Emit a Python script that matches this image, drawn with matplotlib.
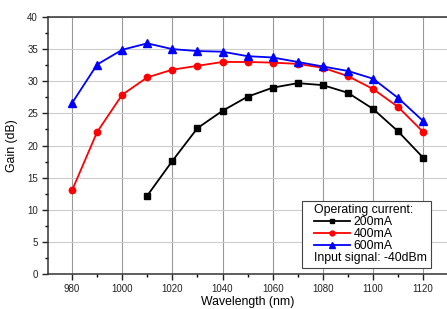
import matplotlib
matplotlib.use("Agg")
import matplotlib.pyplot as plt
from matplotlib.lines import Line2D
from matplotlib.ticker import MultipleLocator
from matplotlib.offsetbox import HPacker, DrawingArea

plt.rcParams['font.family'] = ['Liberation Sans', 'DejaVu Sans']

wl_200 = [1010, 1020, 1030, 1040, 1050, 1060, 1070, 1080, 1090, 1100, 1110, 1120]
gain_200 = [12.2, 17.6, 22.7, 25.4, 27.6, 29.0, 29.7, 29.4, 28.2, 25.7, 22.2, 18.1]

wl_400 = [980, 990, 1000, 1010, 1020, 1030, 1040, 1050, 1060, 1070, 1080, 1090, 1100, 1110, 1120]
gain_400 = [13.0, 22.1, 27.9, 30.6, 31.8, 32.4, 33.0, 33.0, 32.9, 32.7, 32.1, 30.8, 28.8, 26.0, 22.1]

wl_600 = [980, 990, 1000, 1010, 1020, 1030, 1040, 1050, 1060, 1070, 1080, 1090, 1100, 1110, 1120]
gain_600 = [26.6, 32.6, 34.9, 35.9, 35.0, 34.7, 34.6, 33.9, 33.7, 33.0, 32.3, 31.6, 30.4, 27.4, 23.8]

labels = ['200mA', '400mA', '600mA']
legend_title = 'Operating current:'
extra_note = 'Input signal: -40dBm'

fig = plt.figure(figsize=(4.47, 3.09), dpi=100)
ax = fig.add_axes([47.7 / 447, 1 - 274 / 309, 1 - 47.7 / 447, (274 - 17) / 309])

ax.plot(wl_200, gain_200, color='black', lw=1.3, marker='s', ms=4.0)
ax.plot(wl_400, gain_400, color='#ff0000', lw=1.3, marker='o', ms=4.6)
ax.plot(wl_600, gain_600, color='#0000ff', lw=1.3, marker='^', ms=5.2)

ax.set_xlim(970.3, 1129.5)
ax.set_ylim(0, 40)
ax.xaxis.set_major_locator(MultipleLocator(20))
ax.xaxis.set_minor_locator(MultipleLocator(10))
ax.yaxis.set_major_locator(MultipleLocator(5))
ax.yaxis.set_minor_locator(MultipleLocator(2.5))
ax.tick_params(which='major', direction='out', length=4, width=1, labelsize=7, colors='#222222', pad=3)
ax.tick_params(which='minor', direction='out', length=2.5, width=1)
ax.grid(axis='x', which='major', color='#999999', lw=0.8)
ax.grid(axis='y', which='major', color='#cccccc', lw=0.8)
ax.set_axisbelow(True)
ax.spines['right'].set_visible(False)
for s in ['left', 'bottom', 'top']:
    ax.spines[s].set_linewidth(1.1)
    ax.spines[s].set_color('#333333')

ax.set_xlabel('Wavelength (nm)', fontsize=8.8, labelpad=2)
ax.set_ylabel('Gain (dB)', fontsize=8.8, labelpad=7)

handles = [
    Line2D([], [], color='black', lw=1.3, marker='s', ms=3.5),
    Line2D([], [], color='#ff0000', lw=1.3, marker='o', ms=3.5),
    Line2D([], [], color='#0000ff', lw=1.3, marker='^', ms=4),
    Line2D([], [], color='none'),
]
leg = ax.legend(handles, labels + [extra_note], title=legend_title, alignment='left',
                loc='lower right', bbox_to_anchor=((431 - 47.7) / (447 - 47.7), (274 - 268) / 257),
                borderaxespad=0,
                fontsize=8.8, title_fontsize=8.8, frameon=True, fancybox=False,
                edgecolor='#444444', framealpha=1, handlelength=2.9, handletextpad=0.3,
                labelspacing=0.0, borderpad=0.3)
leg.get_frame().set_linewidth(0.8)
leg._legend_box.sep = 0
# remove handle space from the last entry
hp = leg._legend_handle_box.get_children()[0].get_children()[-1]
hb = hp.get_children()[0]
hb.width = 0
hp.sep = 0
# extra left padding inside the legend frame
old_box = leg._legend_box
spacer = DrawingArea(6, 1)
new_box = HPacker(pad=old_box.pad, sep=0, align='center', children=[spacer, old_box])
old_box.pad = 0
new_box.set_figure(fig)
spacer.set_figure(fig)
new_box.set_offset(leg._findoffset)
leg._legend_box = new_box

fig.savefig('out.png', dpi=100)
